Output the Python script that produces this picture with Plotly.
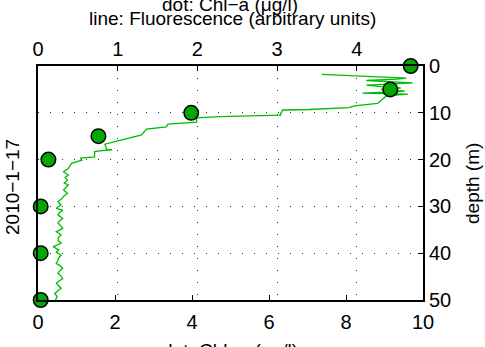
import plotly.graph_objects as go

# Chl-a dots (bottom axis, µg/l) vs depth (m)
chl_depth = [0, 5, 10, 15, 20, 30, 40, 50]
chl_value = [9.68, 9.15, 3.98, 1.57, 0.27, 0.07, 0.07, 0.07]

# Fluorescence profile (top axis, arbitrary units) vs depth (m)
fl_depth = [1.8, 2.6, 2.8, 3.1, 3.6, 3.9, 4.1, 4.4, 4.7, 5.0, 5.4, 5.8, 6.0, 6.4, 7.3,
            8.0, 8.5, 8.9, 9.3, 9.4, 10.3, 10.5, 10.8, 11.1, 12.0, 12.4, 13.0, 13.5,
            14.7, 15.8, 16.7, 17.8, 17.9, 18.1, 18.3, 19.4, 19.7, 20.1, 20.8, 21.9,
            22.6, 23.3, 23.8, 24.4, 25.0, 25.4, 26.0, 26.5, 27.2, 27.7, 28.3, 29.0,
            29.7, 30.4, 30.8, 31.3, 31.8, 32.6, 33.1, 33.6, 34.2, 34.7, 35.4, 36.1,
            36.6, 37.2, 37.9, 38.6, 39.3, 39.8, 40.4, 41.0, 41.5, 42.2, 42.7, 43.2,
            43.8, 44.3, 44.9, 45.4, 46.0, 46.4, 47.0, 47.5, 48.0, 48.6, 49.2, 49.6, 50.0]
fl_value = [3.56, 4.62, 4.50, 4.12, 4.70, 4.40, 4.12, 4.30, 4.55, 4.30, 4.60, 4.07, 4.64,
            4.37, 4.31, 4.26, 3.97, 3.90, 3.40, 3.07, 3.04, 3.05, 2.28, 1.99, 1.99, 1.63,
            1.61, 1.36, 1.30, 1.03, 0.84, 0.86, 0.93, 0.80, 0.71, 0.71, 0.53, 0.55, 0.42,
            0.38, 0.32, 0.38, 0.34, 0.37, 0.33, 0.38, 0.35, 0.32, 0.37, 0.33, 0.30, 0.25,
            0.29, 0.23, 0.31, 0.27, 0.25, 0.31, 0.27, 0.25, 0.29, 0.31, 0.23, 0.29, 0.26,
            0.25, 0.29, 0.19, 0.26, 0.23, 0.29, 0.26, 0.25, 0.23, 0.28, 0.31, 0.27, 0.25,
            0.29, 0.31, 0.26, 0.23, 0.26, 0.29, 0.25, 0.21, 0.24, 0.23, 0.22]

top_ticks = [0, 1, 2, 3, 4]
bottom_ticks = [0, 2, 4, 6, 8, 10]
depth_ticks = [0, 10, 20, 30, 40, 50]

FONT = "Liberation Sans, Arial, Helvetica, sans-serif"
FS = 19
TFS = 20

fig = go.Figure()
fig.add_trace(go.Scatter(x=fl_value, y=fl_depth, mode="lines", xaxis="x", yaxis="y",
                         line=dict(color="#00bb00", width=1.3), showlegend=False, hoverinfo="skip"))
fig.add_trace(go.Scatter(x=chl_value, y=chl_depth, mode="markers", xaxis="x2", yaxis="y",
                         marker=dict(size=14.5, color="#00a800", line=dict(color="black", width=1.5)),
                         cliponaxis=False, showlegend=False, hoverinfo="skip"))

grid = dict(showgrid=True, gridcolor="#333333", gridwidth=1, griddash="1px,11px")
common = dict(ticks="inside", ticklen=5, tickwidth=1, tickcolor="black", showline=True,
              linewidth=2, linecolor="black", zeroline=False,
              tickfont=dict(family=FONT, size=TFS, color="black"))

fig.update_layout(
    width=485, height=347,
    margin=dict(l=38, r=62, t=66, b=47, autoexpand=False),
    paper_bgcolor="white", plot_bgcolor="white",
    xaxis=dict(side="top", range=[0, 4.83], tickvals=top_ticks, anchor="y", **grid, **common),
    xaxis2=dict(side="bottom", overlaying="x", range=[0, 10], tickvals=bottom_ticks, anchor="y",
                showgrid=False, ticklabelstandoff=3, **common),
    yaxis=dict(side="right", range=[50, 0], tickvals=depth_ticks, mirror=True, **grid, **common),
    annotations=[
        dict(text="dot: Chl−a (μg/l)", xref="paper", yref="paper", x=0.499, y=(300 - 4) / 234,
             showarrow=False, xanchor="center", yanchor="middle", font=dict(family=FONT, size=FS, color="black")),
        dict(text="line: Fluorescence (arbitrary units)", xref="paper", yref="paper", x=0.505, y=(300 - 18) / 234,
             showarrow=False, xanchor="center", yanchor="middle", font=dict(family=FONT, size=FS, color="black")),
        dict(text="dot: Chl−a (μg/l)", xref="paper", yref="paper", x=0.499, y=(300 - 350) / 234,
             showarrow=False, xanchor="center", yanchor="middle", font=dict(family=FONT, size=FS, color="black")),
        dict(text="2010−1−17", xref="paper", yref="paper", x=(12 - 38) / 385, y=(300 - 187) / 234,
             textangle=-90, showarrow=False, xanchor="center", yanchor="middle",
             font=dict(family=FONT, size=FS, color="black")),
        dict(text="depth (m)", xref="paper", yref="paper", x=(472 - 38) / 385, y=(300 - 184) / 234,
             textangle=-90, showarrow=False, xanchor="center", yanchor="middle",
             font=dict(family=FONT, size=FS, color="black")),
    ],
)

fig.write_html("out.html", config={"displayModeBar": False, "staticPlot": True},
               post_script="document.body.style.margin='0';document.body.style.padding='0';")
